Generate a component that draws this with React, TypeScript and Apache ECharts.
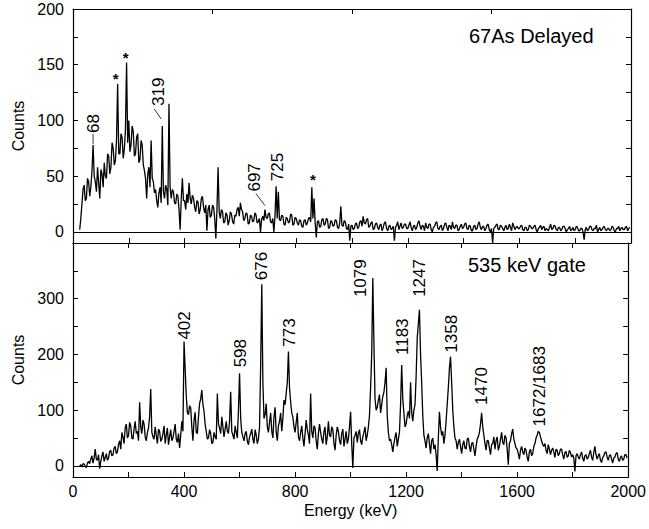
import React, { useEffect, useRef } from "react";
import * as echarts from "echarts";

// ---------------- DATA ----------------
const BIN_KEV = 4; // channel width of the spectra (keV)

// 67As delayed spectrum, counts per 4 keV bin (0 .. 1996 keV), rows of 200 keV
const delayedCounts: (number | null)[] = [
  null, null, null, null, null, null, 2, 12, 25, 38, 42, 28, 30, 48, 45, 32, 40, 55, 78, 50, 45, 36, 58, 44, 30, 56, 52, 40, 62, 50, 48, 70, 68, 52, 58, 80, 75, 60, 64, 82, 133, 70, 70, 88, 85, 66, 74, 92, 152, 80,
  100, 72, 78, 95, 90, 68, 70, 85, 88, 62, 65, 82, 78, 60, 55, 48, 30, 52, 58, 40, 82, 48, 45, 35, 38, 28, 22, 35, 40, 26, 95, 36, 30, 42, 38, 24, 115, 40, 30, 38, 36, 26, 25, 34, 32, 20, 2, 30, 48, 28,
  28, 20, 34, 26, 44, 30, 25, 33, 30, 22, 18, 28, 27, 16, 20, 30, 32, 22, 17, 24, 1, 20, 24, 13, 15, 24, 22, 12, -6, 20, 58, 18, 12, 20, 18, 8, 9, 17, 15, 6, 10, 18, 16, 9, 7, 15, 14, 20, 22, 14,
  26, 20, 18, 10, 12, 17, 16, 7, 8, 15, 14, 9, 10, 17, 15, 8, 9, 12, 0, 11, 14, 10, 20, 13, 12, 16, 17, 9, 8, 12, 0, 14, 41, 12, 36, 11, 10, 15, 14, 7, 6, 13, 12, 8, 9, 16, 15, 6, 7, 13,
  12, 8, 6, 11, 10, 5, 4, 10, 11, 6, 8, 12, 13, 9, 40, 12, 30, 8, -5, 9, 10, 4, 5, 11, 12, 6, 7, 12, 11, 3, 4, 10, 9, 5, 6, 11, 10, 4, 3, 8, 23, 6, 5, 10, 9, 3, 2, 7, -8, 5,
  6, 2, 3, 7, 8, 3, 4, 9, 10, 5, 14, 8, 7, 11, 12, 4, 5, 8, 9, 2, 3, 7, 8, 4, 2, 6, 7, 1, 4, 8, 9, 3, 1, 5, 6, 2, 3, 5, -8, 4, 6, 9, 2, 5, 8, 3, 4, 7, 7, 3,
  3, 6, 9, 4, 1, 5, 6, 2, 4, 8, 10, 5, 2, 6, 5, 1, 8, 4, 3, 7, 7, 2, 0, 4, 5, 8, 9, 3, 2, 5, 6, 1, 3, 7, 8, 4, 1, 6, 5, 2, 9, 4, 3, 6, 6, 1, 2, 5, 7, 3,
  4, 7, 8, 3, 2, 6, 5, 1, 1, 5, 6, 2, 3, 7, 9, 4, 2, 5, 5, 1, 3, 6, 7, 2, 0, 3, -10, 3, 4, 6, 7, 2, 2, 6, 5, 3, 1, 4, 6, 2, 3, 7, 4, 1, 8, 5, 2, 4, 5, 3,
  3, 5, 6, 2, 1, 4, 4, 1, 2, 6, 5, 3, 3, 5, 6, 2, 0, 3, 4, 6, 2, 4, 5, 1, 3, 2, 1, 4, 7, 2, 3, 6, 5, 2, 1, 4, 4, 1, 2, 5, 5, 3, 0, 2, 3, 5, 1, 2, 4, 1,
  2, 5, 4, 1, 1, 3, 3, 0, -7, 2, 4, 1, 2, 5, 5, 2, 1, 3, 3, 6, 0, 2, 4, 1, 2, 4, 5, 2, 1, 3, 3, 1, 2, 5, 4, 1, 0, 3, 3, 5, 1, 3, 4, 2, 2, 4, 5, 1, 3, 4,
];

// 535 keV gate spectrum, counts per 4 keV bin (0 .. 1996 keV)
const gateCounts: (number | null)[] = [
  null, null, null, null, null, null, 0, 2, -2, 4, 3, -1, -3, 5, 8, 4, 12, 18, 5, 14, 30, 12, 10, 20, -5, 8, 18, 25, 8, 15, 22, 10, 14, 26, 28, 18, 20, 32, 35, 22, 25, 38, 45, 30, 60, 52, 40, 68, 75, 50,
  55, 78, 72, 50, 48, 66, 80, 58, 62, 45, 114, 70, 58, 82, 75, 52, 45, 60, 68, 88, 138, 60, 52, 48, 70, 55, 40, 66, 62, 44, 48, 58, 72, 40, 55, 68, 38, 52, 65, 45, 50, 62, 75, 48, 42, 58, 32, 55, 80, 62,
  223, 175, 125, 96, 92, 108, 104, 70, 45, 82, 96, 60, 58, 88, 112, 120, 136, 110, 98, 75, 62, 48, 50, 65, 58, 40, 42, 60, 52, 48, 130, 75, 68, 58, 88, 70, 52, 66, 80, 62, 58, 80, 133, 62, 55, 48, 72, 60, 50, 100,
  166, 85, 60, 52, 45, 58, 62, 44, 38, 52, 58, 66, 48, 40, 65, 55, 40, 48, 70, 180, 326, 150, 85, 92, 112, 70, 60, 78, 95, 62, 50, 88, 105, 60, 45, 72, 80, 95, 62, 85, 118, 110, 130, 150, 205, 140, 115, 95, 88, 70,
  60, 78, 95, 52, 45, 60, 72, 50, 35, 58, 82, 65, 55, 40, 130, 62, 50, 72, 68, 45, 30, 58, 75, 60, 48, 40, 62, 70, 38, 52, 80, 55, 52, 70, 65, 40, 28, 55, 70, 62, 45, 38, 58, 66, 35, 48, 62, 40, 48, 70,
  97, 40, -4, 50, 55, 62, 42, 58, 65, 45, 38, 52, 60, 70, 45, 55, 70, 90, 140, 200, 337, 220, 120, 100, 105, 118, 128, 95, 110, 125, 132, 150, 176, 90, 60, 45, 48, 38, 25, 40, 52, 60, 35, 48, 60, 110, 181, 120, 95, 70,
  75, 90, 98, 85, 150, 95, 80, 100, 110, 160, 230, 255, 280, 200, 150, 90, 55, 45, 32, 50, 58, 40, 22, 45, 50, 30, 38, 20, -9, 50, 97, 70, 55, 62, 40, 55, 80, 110, 140, 175, 196, 150, 100, 70, 50, 45, 30, 42, 48, 35,
  22, 38, 45, 32, 30, 48, 50, 35, 25, 40, 42, 30, 18, 35, 48, 52, 60, 75, 95, 70, 55, 40, 28, 46, 45, 32, 20, 38, 40, 52, 30, 45, 52, 28, 35, 48, 60, 42, 38, 55, 50, 30, 2, 40, 45, 58, 66, 48, 40, 32,
  30, 22, 12, 28, 35, 25, 20, 32, 28, 15, 8, 25, 30, 18, 22, 35, 40, 50, 55, 62, 60, 52, 45, 38, 35, 40, 28, 22, 38, 30, 20, 28, 32, 25, 15, 30, 28, 18, 22, 30, 30, 20, 12, 24, 26, 15, 18, 28, 24, 16,
  20, 14, -10, 18, 22, 16, 12, 20, 25, 14, 8, 18, 20, 12, 15, 22, 28, 16, 10, 24, 35, 20, 12, 18, 22, 10, 6, 15, 18, 24, 25, 16, 10, 18, 20, 12, 5, 14, 16, 22, 24, 12, 8, 15, 18, 10, 12, 20, 20, 14,
];

const energyTicks = [0, 200, 400, 600, 800, 1000, 1200, 1400, 1600, 1800, 2000];
const energyLabels = [0, 400, 800, 1200, 1600, 2000];
const topEdgeTicks = [500, 1000, 1500];

const delayedYTicks = [0, 25, 50, 75, 100, 125, 150, 175, 200];
const delayedYLabels = [0, 50, 100, 150, 200];
const gateYTicks = [0, 50, 100, 150, 200, 250, 300, 350];
const gateYLabels = [0, 100, 200, 300];

const delayedPeakLabels = ["68", "*", "*", "319", "697", "725", "*"];
const delayedPeakEnergies = [72, 160, 192, 320, 688, 728, 856];
const gatePeakLabels = ["402", "598", "676", "773", "1079", "1183", "1247", "1358", "1470", "1672/1683"];
const gatePeakEnergies = [400, 600, 680, 776, 1080, 1184, 1248, 1360, 1472, 1680];

const panelTitles = ["67As Delayed", "535 keV gate"];

// ---------------- STYLE ----------------
const FONT = '"Liberation Sans", Arial, Helvetica, sans-serif';
// label placement relative to the peak top (pixels): dx, gap above peak, optional leader
const delayedLabelStyle = [
  { dx: 0, gap: 12, leader: [[0, -1], [0, -11]] },
  { dx: -2, gap: 5 },
  { dx: -1, gap: 5 },
  { dx: -4, gap: 20, leader: [[-1, -7], [-8, -17]] },
  { dx: -10, gap: 18, leader: [[0, -4], [-9, -16]] },
  { dx: 1, gap: 5 },
  { dx: 1, gap: 8 },
];
const gateLabelStyle = [
  { dx: 0, gap: 2 },
  { dx: 1, gap: 6 },
  { dx: 0, gap: 4 },
  { dx: 1, gap: 5 },
  { dx: -12, gap: -19 },
  { dx: 1, gap: 10 },
  { dx: 0, gap: 13 },
  { dx: 1, gap: 4 },
  { dx: 0, gap: 8 },
  { dx: 0, gap: 6 },
];

const axisLineStyle = { color: "#000", width: 1.2 };

function xAxisDef(gridIndex: number, position: "top" | "bottom", ticks: number[], labels: number[] | null, name?: string) {
  return {
    type: "value",
    gridIndex,
    position,
    min: 0,
    max: 2000,
    interval: 200,
    name: name || "",
    nameLocation: "middle",
    nameGap: 25,
    nameTextStyle: { fontSize: 16, color: "#000", fontFamily: FONT },
    axisLine: { show: true, onZero: false, lineStyle: axisLineStyle },
    axisTick: { show: true, inside: true, length: 5, customValues: ticks, lineStyle: { color: "#000", width: 1 } },
    axisLabel: labels
      ? {
          show: true,
          customValues: labels,
          margin: 6,
          fontSize: 16,
          color: "#000",
          fontFamily: FONT,
          formatter: (v: number) => String(v),
        }
      : { show: false },
    splitLine: { show: false },
  };
}

function yAxisDef(gridIndex: number, position: "left" | "right", min: number, max: number, ticks: number[], labels: number[] | null) {
  return {
    type: "value",
    gridIndex,
    position,
    min,
    max,
    name: labels ? "Counts" : "",
    nameLocation: "middle",
    nameGap: 36,
    nameTextStyle: { fontSize: 16, color: "#000", fontFamily: FONT },
    axisLine: { show: true, onZero: false, lineStyle: axisLineStyle },
    axisTick: { show: true, inside: true, length: 5, customValues: ticks, lineStyle: { color: "#000", width: 1 } },
    axisLabel: labels
      ? {
          show: true,
          customValues: labels,
          margin: 9,
          fontSize: 16,
          color: "#000",
          fontFamily: FONT,
          formatter: (v: number) => String(v),
        }
      : { show: false },
    splitLine: { show: false },
  };
}

const zeroLine = {
  silent: true,
  symbol: "none",
  label: { show: false },
  lineStyle: { color: "#000", width: 1.2, type: "solid" },
  data: [{ yAxis: 0 }],
};

export default function App() {
  const ref = useRef<HTMLDivElement>(null);

  useEffect(() => {
    const el = ref.current;
    if (!el) return;
    const chart = echarts.init(el, null, { renderer: "svg" });

    const delayedData = delayedCounts.map((c, i) => [i * BIN_KEV, c]);
    const gateData = gateCounts.map((c, i) => [i * BIN_KEV, c]);

    chart.setOption({
      animation: false,
      backgroundColor: "#fff",
      textStyle: { fontFamily: FONT },
      grid: [
        { left: 73, top: 9, width: 558, height: 234 },
        { left: 73, top: 243, width: 558, height: 234 },
      ],
      xAxis: [
        xAxisDef(0, "bottom", energyTicks, null),
        xAxisDef(0, "top", topEdgeTicks, null),
        xAxisDef(1, "bottom", energyTicks, energyLabels, "Energy (keV)"),
        xAxisDef(1, "top", energyTicks, null),
      ],
      yAxis: [
        yAxisDef(0, "left", -10, 200, delayedYTicks, delayedYLabels),
        yAxisDef(0, "right", -10, 200, delayedYTicks, null),
        yAxisDef(1, "left", -20, 400, gateYTicks, gateYLabels),
        yAxisDef(1, "right", -20, 400, gateYTicks, null),
      ],
      series: [
        {
          type: "line",
          xAxisIndex: 0,
          yAxisIndex: 0,
          data: delayedData,
          symbol: "none",
          showSymbol: false,
          connectNulls: false,
          sampling: undefined,
          lineStyle: { color: "#000", width: 1.3 },
          markLine: zeroLine,
          z: 3,
        },
        {
          type: "line",
          xAxisIndex: 2,
          yAxisIndex: 2,
          data: gateData,
          symbol: "none",
          showSymbol: false,
          connectNulls: false,
          sampling: undefined,
          lineStyle: { color: "#000", width: 1.3 },
          markLine: zeroLine,
          z: 3,
        },
      ],
    });

    const graphics: any[] = [];
    const addLabels = (
      labels: string[],
      energies: number[],
      counts: (number | null)[],
      styles: any[],
      xAxisIndex: number,
      yAxisIndex: number
    ) => {
      labels.forEach((txt, k) => {
        const e = energies[k];
        const v = counts[Math.round(e / BIN_KEV)] || 0;
        const p = chart.convertToPixel({ xAxisIndex, yAxisIndex }, [e, v]) as number[];
        const st = styles[k];
        if (st.leader) {
          graphics.push({
            type: "line",
            shape: {
              x1: p[0] + st.leader[0][0],
              y1: p[1] + st.leader[0][1],
              x2: p[0] + st.leader[1][0],
              y2: p[1] + st.leader[1][1],
            },
            style: { stroke: "#000", lineWidth: 0.8 },
          });
        }
        if (txt === "*") {
          graphics.push({
            type: "text",
            x: p[0] + st.dx,
            y: p[1] - st.gap,
            style: {
              text: "*",
              font: `bold 15px ${FONT}`,
              fill: "#000",
              textAlign: "center",
              textVerticalAlign: "middle",
              verticalAlign: "middle",
            },
          });
        } else {
          graphics.push({
            type: "text",
            x: p[0] + st.dx,
            y: p[1] - st.gap,
            rotation: Math.PI / 2,
            style: {
              text: txt,
              font: `17px ${FONT}`,
              fill: "#000",
              textAlign: "left",
              textVerticalAlign: "middle",
              verticalAlign: "middle",
            },
          });
        }
      });
    };
    addLabels(delayedPeakLabels, delayedPeakEnergies, delayedCounts, delayedLabelStyle, 0, 0);
    addLabels(gatePeakLabels, gatePeakEnergies, gateCounts, gateLabelStyle, 2, 2);

    graphics.push({
      type: "text",
      left: 469,
      top: 26,
      style: { text: panelTitles[0], font: `20px ${FONT}`, fill: "#000" },
    });
    graphics.push({
      type: "text",
      left: 468,
      top: 255,
      style: { text: panelTitles[1], font: `20px ${FONT}`, fill: "#000" },
    });

    chart.setOption({ graphic: graphics });

    return () => {
      chart.dispose();
    };
  }, []);

  return (
    <div
      ref={ref}
      style={{ position: "absolute", left: 0, top: 0, width: 649, height: 529, background: "#fff" }}
    />
  );
}
